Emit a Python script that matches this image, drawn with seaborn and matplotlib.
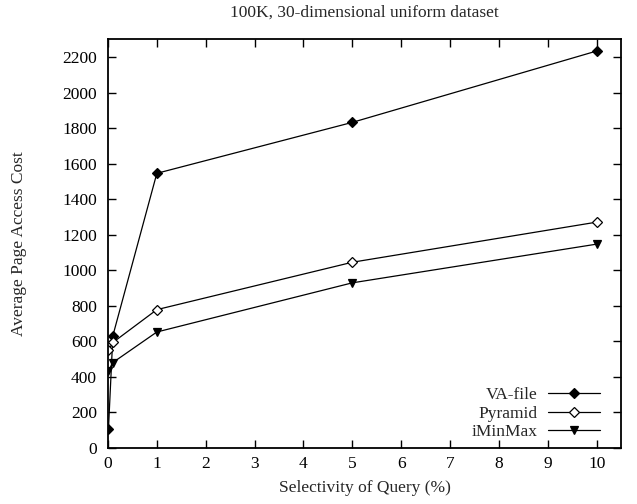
import matplotlib
matplotlib.use("Agg")
import matplotlib.pyplot as plt
import seaborn as sns
import pandas as pd

# Query selectivity (%) and average page accesses per index
selectivity = [0.01, 0.1, 1, 5, 10]
va_file = [104, 630, 1545, 1832, 2234]
pyramid = [547, 592, 777, 1044, 1270]
iminmax = [432, 479, 651, 928, 1146]

series_names = ["VA-file", "Pyramid", "iMinMax"]
series_values = [va_file, pyramid, iminmax]
markers = ["D", "D", "v"]
face_colors = ["black", "white", "black"]
marker_sizes = [5, 5, 6]

FS = 12.5

sns.set_theme(style="ticks")
plt.rcParams["font.family"] = ["Liberation Serif", "DejaVu Serif"]
plt.rcParams["font.size"] = FS

fig = plt.figure(figsize=(6.37, 5.04), dpi=100)
ax = fig.add_axes([0.1695, 0.112, 0.8055, 0.810])

for name, vals, mk, fc, ms in zip(series_names, series_values, markers, face_colors, marker_sizes):
    df = pd.DataFrame({"x": selectivity, "y": vals})
    sns.lineplot(data=df, x="x", y="y", ax=ax, color="black", linewidth=0.9,
                 marker=mk, markersize=ms, markerfacecolor=fc,
                 markeredgecolor="black", markeredgewidth=0.9, label=name)

ax.set_xlim(0, 10.5)
ax.set_ylim(0, 2300)
ax.set_xticks(range(0, 11))
ax.set_yticks(range(0, 2201, 200))

ax.tick_params(direction="in", length=6, width=1.0, top=True, right=True,
               labelsize=FS, colors="black")
ax.tick_params(axis="x", pad=6)
ax.tick_params(axis="y", pad=8)
for sp in ax.spines.values():
    sp.set_linewidth(1.3)
    sp.set_color("black")

ax.set_xlabel("Selectivity of Query (%)", fontsize=FS, labelpad=6)
ax.set_ylabel("Average Page Access Cost", fontsize=FS, labelpad=25)
ax.set_title("100K, 30-dimensional uniform dataset", fontsize=FS, pad=16)

leg = ax.legend(loc="lower right", bbox_to_anchor=(0.983, -0.012), frameon=False,
                markerfirst=False, handlelength=3.0, handletextpad=0.6,
                labelspacing=0.14, fontsize=FS, borderpad=0.2)

fig.savefig("out.png", dpi=100)
